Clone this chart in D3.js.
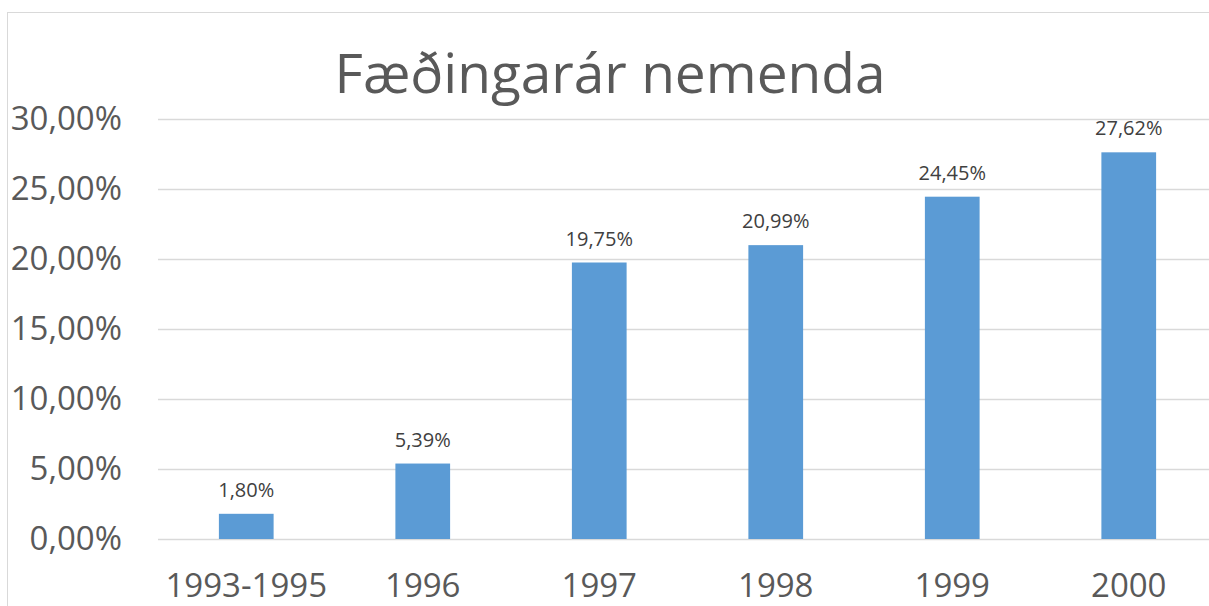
<!DOCTYPE html>
<html>
<head>
<meta charset="utf-8">
<script src="https://cdn.jsdelivr.net/npm/d3@7"></script>
<style>
  body { margin: 0; background: #fff; }
  svg { display: block; }
</style>
</head>
<body>
<div id="chart"></div>
<script>
const categories = ["1993-1995", "1996", "1997", "1998", "1999", "2000"];
const values = [1.80, 5.39, 19.75, 20.99, 24.45, 27.62];
const yTicks = [0, 5, 10, 15, 20, 25, 30];
const chartTitle = "Fæðingarár nemenda";

const width = 1209, height = 606;
const margin = {top: 119, right: -8, bottom: 67, left: 158};
const innerW = width - margin.left - margin.right,
  innerH = height - margin.top - margin.bottom;

const fontFam = "'Open Sans', sans-serif";
const fmt = v => v.toFixed(2).replace(".", ",") + "%";

const svg = d3.select("#chart")
  .append("svg")
  .attr("width", width)
  .attr("height", height);

// chart frame (cropped at right/bottom)
svg.append("rect")
  .attr("x", 7.5)
  .attr("y", 12.5)
  .attr("width", 1300)
  .attr("height", 700)
  .attr("fill", "none")
  .attr("stroke", "#d9d9d9")
  .attr("stroke-width", 1);

svg.append("text")
  .attr("x", 610)
  .attr("y", 93)
  .attr("text-anchor", "middle")
  .style("font-family", fontFam)
  .style("font-size", "55px")
  .style("fill", "#595959")
  .text(chartTitle);

const g = svg.append("g")
  .attr("transform", `translate(${margin.left},${margin.top})`);

const x = d3.scaleBand()
  .domain(categories)
  .range([0, innerW])
  .paddingInner(0.69)
  .paddingOuter(0.345);

const y = d3.scaleLinear()
  .domain([0, 30])
  .range([innerH, 0]);

// gridlines
g.append("g")
  .selectAll("line")
  .data(yTicks)
  .join("line")
  .attr("x1", 0)
  .attr("x2", innerW)
  .attr("y1", d => Math.round(y(d)) + 0.5)
  .attr("y2", d => Math.round(y(d)) + 0.5)
  .attr("stroke", "#d9d9d9")
  .attr("stroke-width", 1.5);

// y axis labels
const yAxis = g.append("g")
  .call(d3.axisLeft(y).tickValues(yTicks).tickFormat(d => fmt(d)).tickSize(0).tickPadding(36));
yAxis.select(".domain").remove();
yAxis.selectAll("text")
  .style("font-family", fontFam)
  .style("font-size", "33px")
  .style("fill", "#595959");

// x axis labels
const xAxis = g.append("g")
  .attr("transform", `translate(0,${innerH})`)
  .call(d3.axisBottom(x).tickSize(0).tickPadding(35));
xAxis.select(".domain").remove();
xAxis.selectAll("text")
  .style("font-family", fontFam)
  .style("font-size", "33px")
  .style("fill", "#595959");

// bars
g.selectAll(".bar")
  .data(values)
  .join("rect")
  .attr("class", "bar")
  .attr("x", (d, i) => x(categories[i]))
  .attr("width", x.bandwidth())
  .attr("y", d => y(d))
  .attr("height", d => innerH - y(d))
  .attr("fill", "#5b9bd5");

// data labels
g.selectAll(".lbl")
  .data(values)
  .join("text")
  .attr("class", "lbl")
  .attr("x", (d, i) => x(categories[i]) + x.bandwidth() / 2)
  .attr("y", d => y(d) - 17)
  .attr("text-anchor", "middle")
  .style("font-family", fontFam)
  .style("font-size", "20px")
  .style("fill", "#404040")
  .text(d => fmt(d));
</script>
</body>
</html>
